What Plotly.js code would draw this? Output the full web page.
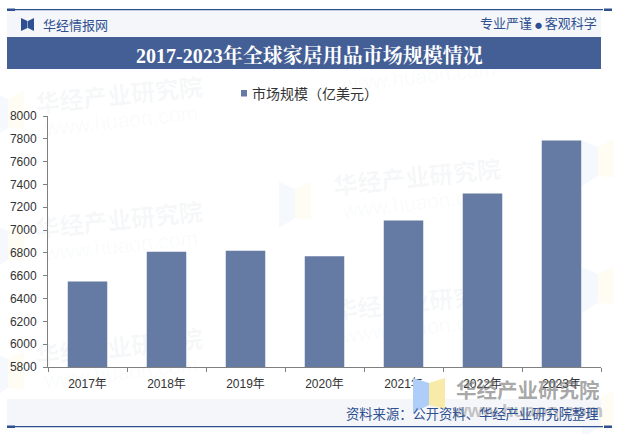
<!DOCTYPE html>
<html><head><meta charset="utf-8">
<script src="https://cdn.plot.ly/plotly-3.0.1.min.js"></script>
<style>html,body{margin:0;padding:0;background:#fff;overflow:hidden}#bg,#c{position:absolute;left:0;top:0;width:619px;height:434px}</style>
</head><body><div id="bg"></div><div id="c"></div>
<script>
const categories = ['2017年','2018年','2019年','2020年','2021年','2022年','2023年'];
const marketSize = [6550,6810,6820,6770,7085,7320,7785];
const seriesName = '市场规模（亿美元）';
const yTicks = [5800,6000,6200,6400,6600,6800,7000,7200,7400,7600,7800,8000];
const barColor='#667ba3';
const W=619,H=434,L=48,R=18,T=116,B=67;
const px=x=>(x-L)/(W-L-R), py=y=>1-(y-T)/(H-T-B);
const rect=(x0,y0,x1,y1,c,layer)=>({type:'rect',xref:'paper',yref:'paper',x0:px(x0),x1:px(x1),y0:py(y1),y1:py(y0),fillcolor:c,line:{width:0},layer:layer||'below'});
const poly=(pts,c,layer)=>({type:'path',xref:'paper',yref:'paper',path:'M'+pts.map(p=>px(p[0])+','+py(p[1])).join('L')+'Z',fillcolor:c,line:{width:0},layer:layer||'below'});
const CJK='"Noto Sans CJK SC","DejaVu Sans",sans-serif';
const txt=(x,y,t,size,color,anchor,extra)=>Object.assign({xref:'paper',yref:'paper',x:px(x),y:py(y),text:t,showarrow:false,xanchor:anchor||'center',yanchor:'middle',font:{size:size,color:color,family:CJK}},extra||{});
const navy='#2f5090', band='#445f96';

// faint background watermark layer
const wmCentres=[[119,93],[119,218],[119,345],[417,50],[417,175],[417,300]];
const wmAnn=[];
wmCentres.forEach(([x,y])=>{
  wmAnn.push(txt(x,y,'华经产业研究院',24,'','center',{textangle:-6,font:{size:24,color:'rgba(120,130,150,0.07)',family:CJK,weight:700}}));
  wmAnn.push(txt(x+1,y+27,'www.huaon.com',21,'','center',{textangle:-6,font:{size:21,color:'rgba(120,130,150,0.05)',family:'"Liberation Sans",sans-serif'}}));
});
const logo=(x,y)=>[
  poly([[x,y],[x+16,y+7],[x+16,y+36],[x,y+46]],'rgba(174,205,248,0.12)'),
  poly([[x+16,y+7],[x+32,y-1],[x+32,y+37],[x+16,y+36]],'rgba(248,234,168,0.14)')
];
const wmShapes=[...logo(-8,92),...logo(-8,224),...logo(-8,352),...logo(279,182),...logo(582,140),...logo(582,267),...logo(582,392)];
Plotly.newPlot('bg',[],{width:W,height:H,margin:{l:L,r:R,t:T,b:B},paper_bgcolor:'#fff',plot_bgcolor:'#fff',
  xaxis:{visible:false},yaxis:{visible:false},shapes:wmShapes,annotations:wmAnn},{displayModeBar:false,staticPlot:true});

const shapes=[
 rect(7,10,601,37,'#f4f6fa'),
 rect(7,37,601,69,band),
 rect(7,399,601,426,'#f4f6fa'),
 rect(7,9,603,10.2,navy),rect(7,426,603,427.2,navy),
 rect(7,8.5,15,11,navy),rect(7,425.5,15,428,navy),
 rect(604,8.5,612,11,navy),rect(604,425.5,612,428,navy),
 poly([[21,18],[27.5,21],[27.5,28],[21,31]],navy),poly([[34,18],[28,21],[28,28],[34,31]],navy),
 rect(241,90,247,96.5,barColor,'above'),
 poly([[413,378],[429,383],[429,405],[413,413]],'#aecdf8','above'),
 poly([[445,378],[429,383],[429,405],[445,409]],'#f8eaa8','above')
];
const annotations=[
 txt(41,25,'华经情报网',13,navy,'left'),
 txt(599,23,'专业严谨 <span style="font-size:7px">●</span> 客观科学',13,navy,'right'),
 txt(309.5,55.5,'2017-2023年全球家居用品市场规模情况',20,'#ffffff','center',{font:{size:20,color:'#ffffff',family:'"Liberation Serif","Noto Serif CJK SC","Noto Sans CJK SC",serif',weight:700}}),
 txt(250,93,seriesName,14,'#333','left'),
 txt(528,389,'华经产业研究院',20.5,'','center',{font:{size:20.5,color:'rgba(110,110,110,0.6)',family:CJK,weight:700}}),
 txt(527,410,'www.huaon.com',19,'','center',{font:{size:19,color:'rgba(110,110,110,0.4)',family:'"Liberation Sans",sans-serif',weight:700}}),
 txt(601,413,'资料来源：公开资料、华经产业研究院整理',13.3,navy,'right')
];
const trace={type:'bar',x:categories,y:marketSize,name:seriesName,marker:{color:barColor,line:{width:0}},showlegend:false};
const layout={width:W,height:H,margin:{l:L,r:R,t:T,b:B,pad:0},paper_bgcolor:'rgba(0,0,0,0)',plot_bgcolor:'rgba(0,0,0,0)',
 font:{family:'"Liberation Sans",Arial,sans-serif',size:12,color:'#333'},bargap:0.5,showlegend:false,
 xaxis:{type:'category',tickmode:'array',tickvals:categories,ticktext:categories,tickson:'boundaries',showgrid:false,showline:true,linecolor:'#808080',linewidth:1,ticks:'outside',ticklen:4,tickcolor:'#808080',ticklabelstandoff:6,tickfont:{size:12,color:'#333',family:'"Liberation Sans","Noto Sans CJK SC",sans-serif'},fixedrange:true},
 yaxis:{range:[5800,8000],tickmode:'array',tickvals:yTicks,showgrid:false,showline:true,linecolor:'#808080',linewidth:1,ticks:'outside',ticklen:4,tickcolor:'#808080',ticklabelstandoff:4,tickfont:{size:12,color:'#333'},zeroline:false,fixedrange:true},
 shapes,annotations};
Plotly.newPlot('c',[trace],layout,{displayModeBar:false,staticPlot:true});
</script></body></html>
